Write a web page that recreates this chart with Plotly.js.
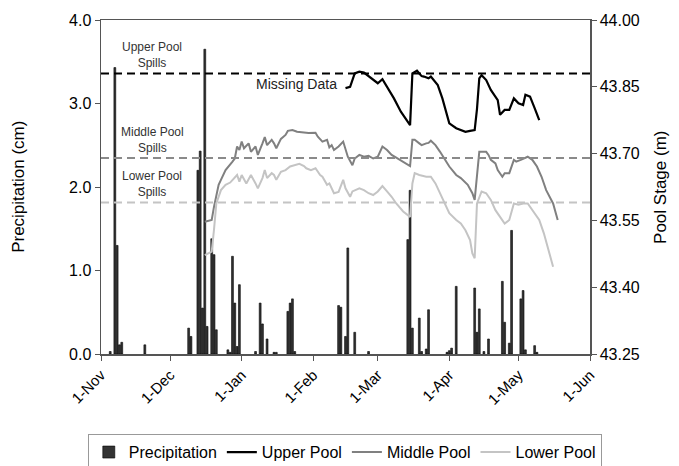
<!DOCTYPE html>
<html>
<head>
<meta charset="utf-8">
<script src="https://cdn.plot.ly/plotly-3.0.1.min.js"></script>
<style>html,body{margin:0;padding:0;background:#fff;}#chart{width:679px;height:466px;}</style>
</head>
<body>
<div id="chart"></div>
<script>
// ---- Data ----
const precipDates = ['2004-11-05','2004-11-07','2004-11-08','2004-11-09','2004-11-10','2004-11-20',
  '2004-12-09','2004-12-10','2004-12-13','2004-12-14','2004-12-15','2004-12-16','2004-12-17','2004-12-19','2004-12-20','2004-12-21',
  '2004-12-26','2004-12-27','2004-12-28','2004-12-29','2004-12-30','2004-12-31',
  '2005-01-07','2005-01-09','2005-01-10','2005-01-12','2005-01-15','2005-01-16','2005-01-21','2005-01-22','2005-01-23','2005-01-24',
  '2005-02-12','2005-02-13','2005-02-15','2005-02-16','2005-02-19','2005-02-25',
  '2005-03-14','2005-03-15','2005-03-16','2005-03-19','2005-03-20','2005-03-22','2005-03-23','2005-03-31',
  '2005-04-01','2005-04-02','2005-04-04','2005-04-12','2005-04-13','2005-04-14','2005-04-16','2005-04-18',
  '2005-04-24','2005-04-25','2005-04-27','2005-04-28',
  '2005-05-02','2005-05-03','2005-05-04','2005-05-08','2005-05-09'];
const precipCm = [0.03,3.43,1.30,0.11,0.14,0.11,
  0.31,0.21,2.20,2.43,0.55,3.65,0.33,1.38,1.19,0.29,
  0.05,0.02,1.17,0.61,0.09,0.83,
  0.03,0.61,0.36,0.18,0.02,0.02,0.51,0.61,0.66,0.03,
  0.58,0.56,0.21,1.27,0.26,0.03,
  1.37,1.96,0.31,0.43,0.03,0.06,0.53,0.02,
  0.04,0.07,0.81,0.79,0.26,0.54,0.03,0.18,
  0.87,0.38,0.13,1.48,
  0.66,0.76,0.05,0.10,0.02];

const upperDates = ['2005-02-15','2005-02-17','2005-02-19','2005-02-21','2005-02-23','2005-02-26','2005-03-01','2005-03-03','2005-03-05','2005-03-06','2005-03-08','2005-03-11','2005-03-15',
  '2005-03-16','2005-03-18','2005-03-19','2005-03-20','2005-03-21','2005-03-23','2005-03-24','2005-03-27','2005-03-29','2005-03-31',
  '2005-04-01','2005-04-04','2005-04-06','2005-04-08','2005-04-10','2005-04-12','2005-04-13','2005-04-14','2005-04-15','2005-04-17','2005-04-19',
  '2005-04-22','2005-04-23','2005-04-25','2005-04-27','2005-04-29','2005-05-01','2005-05-03','2005-05-04','2005-05-06','2005-05-08','2005-05-10'];
const upperStage = [43.847,43.850,43.880,43.884,43.882,43.869,43.858,43.867,43.850,43.843,43.824,43.794,43.764,
  43.880,43.886,43.880,43.874,43.873,43.869,43.873,43.854,43.824,43.790,
  43.768,43.757,43.753,43.749,43.751,43.753,43.800,43.869,43.876,43.865,43.843,
  43.820,43.787,43.798,43.798,43.824,43.813,43.809,43.832,43.828,43.802,43.775];

const middleDates = ['2004-12-16','2004-12-19','2004-12-20','2004-12-22','2004-12-23','2004-12-25','2004-12-28','2004-12-29','2004-12-30','2004-12-31',
  '2005-01-01','2005-01-02','2005-01-04','2005-01-05','2005-01-07','2005-01-08','2005-01-10','2005-01-11','2005-01-12','2005-01-14','2005-01-15','2005-01-16','2005-01-18','2005-01-20','2005-01-21','2005-01-23','2005-01-25','2005-01-28','2005-01-30',
  '2005-02-02','2005-02-03','2005-02-05','2005-02-07','2005-02-08','2005-02-09','2005-02-10','2005-02-12','2005-02-14','2005-02-15','2005-02-16','2005-02-18','2005-02-19','2005-02-21','2005-02-23','2005-02-25','2005-02-27',
  '2005-03-01','2005-03-03','2005-03-05','2005-03-07','2005-03-09','2005-03-12','2005-03-15','2005-03-16','2005-03-17','2005-03-19','2005-03-20','2005-03-22','2005-03-23','2005-03-24','2005-03-26','2005-03-28','2005-03-30',
  '2005-04-01','2005-04-04','2005-04-06','2005-04-09','2005-04-11','2005-04-12','2005-04-13','2005-04-14','2005-04-17','2005-04-18','2005-04-19','2005-04-21','2005-04-22','2005-04-24','2005-04-25','2005-04-27','2005-04-29','2005-04-30',
  '2005-05-02','2005-05-05','2005-05-07','2005-05-09','2005-05-11','2005-05-13','2005-05-16','2005-05-18'];
const middleStage = [43.547,43.551,43.581,43.630,43.641,43.663,43.682,43.689,43.716,43.708,
  43.727,43.712,43.723,43.704,43.716,43.697,43.723,43.737,43.719,43.731,43.723,43.712,43.733,43.742,43.751,43.753,43.749,43.747,43.746,
  43.747,43.738,43.727,43.731,43.714,43.719,43.708,43.716,43.727,43.708,43.693,43.674,43.689,43.697,43.693,43.695,43.689,
  43.693,43.716,43.708,43.697,43.691,43.682,43.672,43.731,43.731,43.723,43.719,43.723,43.724,43.729,43.719,43.704,43.686,
  43.671,43.652,43.645,43.630,43.611,43.596,43.660,43.704,43.704,43.697,43.686,43.678,43.663,43.648,43.656,43.656,43.686,43.682,
  43.686,43.693,43.686,43.671,43.648,43.618,43.588,43.551];

const lowerDates = ['2004-12-16','2004-12-19','2004-12-20','2004-12-21','2004-12-23','2004-12-25','2004-12-27','2004-12-28','2004-12-30','2004-12-31',
  '2005-01-01','2005-01-03','2005-01-05','2005-01-07','2005-01-08','2005-01-10','2005-01-11','2005-01-12','2005-01-14','2005-01-15','2005-01-16','2005-01-18','2005-01-20','2005-01-22','2005-01-24','2005-01-26','2005-01-28','2005-01-29','2005-01-31',
  '2005-02-02','2005-02-04','2005-02-05','2005-02-07','2005-02-08','2005-02-10','2005-02-12','2005-02-14','2005-02-15','2005-02-17','2005-02-18','2005-02-21','2005-02-23','2005-02-25','2005-02-27',
  '2005-03-01','2005-03-03','2005-03-05','2005-03-07','2005-03-09','2005-03-12','2005-03-15','2005-03-16','2005-03-17','2005-03-19','2005-03-22','2005-03-24','2005-03-26','2005-03-28','2005-03-30',
  '2005-04-01','2005-04-04','2005-04-06','2005-04-08','2005-04-10','2005-04-11','2005-04-12','2005-04-13','2005-04-15','2005-04-17','2005-04-19','2005-04-21','2005-04-24','2005-04-25','2005-04-27','2005-04-29',
  '2005-05-01','2005-05-03','2005-05-05','2005-05-07','2005-05-10','2005-05-12','2005-05-14','2005-05-16'];
const lowerStage = [43.472,43.480,43.530,43.588,43.618,43.630,43.635,43.641,43.652,43.637,
  43.652,43.633,43.652,43.633,43.622,43.645,43.663,43.645,43.656,43.652,43.641,43.659,43.663,43.671,43.674,43.677,43.672,43.667,43.663,
  43.667,43.652,43.648,43.630,43.633,43.611,43.614,43.641,43.622,43.603,43.615,43.622,43.618,43.611,43.607,
  43.615,43.627,43.615,43.603,43.588,43.570,43.558,43.633,43.656,43.652,43.648,43.648,43.633,43.611,43.588,
  43.566,43.551,43.543,43.528,43.506,43.476,43.465,43.588,43.615,43.611,43.596,43.573,43.551,43.543,43.551,43.588,
  43.585,43.588,43.588,43.573,43.551,43.521,43.484,43.446];

const spillLevels = [43.88, 43.69, 43.59];   // upper, middle, lower pool spill stage (m)
const spillLabels = ['Upper Pool<br>Spills', 'Middle Pool<br>Spills', 'Lower Pool<br>Spills'];
const monthTicks = ['2004-11-01','2004-12-01','2005-01-01','2005-02-01','2005-03-01','2005-04-01','2005-05-01','2005-06-01'];
const monthLabels = ['1-Nov','1-Dec','1-Jan','1-Feb','1-Mar','1-Apr','1-May','1-Jun'];
const precipTicks = [0, 1, 2, 3, 4];
const stageTicks = [43.25, 43.40, 43.55, 43.70, 43.85, 44.00];

// ---- Chart ----
const FONT = 'Liberation Sans, Arial, sans-serif';
const DAY = 86400000;

const traces = [
  {type:'bar', name:'Precipitation', x:precipDates, y:precipCm, yaxis:'y',
   width: DAY*0.8, marker:{color:'#333333', line:{color:'#000', width:0.6}}},
  {type:'scatter', mode:'lines', name:'Upper Pool', x:upperDates, y:upperStage, yaxis:'y2',
   line:{color:'#000000', width:2.2}},
  {type:'scatter', mode:'lines', name:'Middle Pool', x:middleDates, y:middleStage, yaxis:'y2',
   line:{color:'#808080', width:2}},
  {type:'scatter', mode:'lines', name:'Lower Pool', x:lowerDates, y:lowerStage, yaxis:'y2',
   line:{color:'#c4c4c4', width:2}}
];

const spillStyles = [
  {color:'#000000', width:2, dash:'8px,5px'},
  {color:'#8a8a8a', width:2, dash:'8px,5px'},
  {color:'#c4c4c4', width:2, dash:'8px,5px'}
];
const shapes = spillLevels.map((v, i) => ({
  type:'line', xref:'paper', x0:0, x1:1, yref:'y2', y0:v, y1:v, line:spillStyles[i], layer:'above'
}));

const labelY = [0.894, 0.642, 0.510];
const annotations = spillLabels.map((t, i) => ({
  text:t, xref:'paper', yref:'paper', x:0.105, y:labelY[i], showarrow:false,
  font:{family:FONT, size:12, color:'#333'}, xanchor:'center', yanchor:'middle', align:'center'
}));
annotations.push({text:'Missing Data', xref:'paper', yref:'paper', x:0.487, y:0.807, showarrow:false,
  xanchor:'right', yanchor:'middle', font:{family:FONT, size:14, color:'#222'}});
// axis titles
annotations.push({text:'Precipitation (cm)', xref:'paper', yref:'paper', x:-0.17, y:0.5, showarrow:false,
  textangle:-90, xanchor:'center', yanchor:'middle', font:{family:FONT, size:17, color:'#000'}});
annotations.push({text:'Pool Stage (m)', xref:'paper', yref:'paper', x:1.143, y:0.5, showarrow:false,
  textangle:-90, xanchor:'center', yanchor:'middle', font:{family:FONT, size:17, color:'#000'}});

const axisLine = '#555555';
const layout = {
  width:679, height:466,
  margin:{l:101, r:89, t:20, b:112, autoexpand:false},
  paper_bgcolor:'#fff', plot_bgcolor:'#fff',
  font:{family:FONT, color:'#000'},
  showlegend:true,
  barmode:'overlay',
  xaxis:{type:'date', range:['2004-11-01','2005-06-01'], tickvals:monthTicks, ticktext:monthLabels,
    tickangle:-45, tickfont:{size:15, family:FONT}, showgrid:false, zeroline:false, automargin:false,
    showline:true, linecolor:axisLine, linewidth:1.5, mirror:true, ticks:'outside', ticklen:5, tickcolor:axisLine},
  yaxis:{range:[0,4], tickvals:precipTicks, tickformat:'.1f', tickfont:{size:16, family:FONT},
    showgrid:false, zeroline:false, showline:true, linecolor:axisLine, linewidth:1.5, automargin:false,
    ticks:'outside', ticklen:5, tickcolor:axisLine},
  yaxis2:{range:[43.25,44.00], tickvals:stageTicks, tickformat:'.2f', overlaying:'y', side:'right',
    tickfont:{size:16, family:FONT}, automargin:false,
    showgrid:false, zeroline:false, showline:true, linecolor:axisLine, linewidth:1.5,
    ticks:'outside', ticklen:5, tickcolor:axisLine},
  legend:{orientation:'h', x:-0.027, xanchor:'left', y:-0.24, yanchor:'top',
    bordercolor:'#999', borderwidth:1, font:{size:16, family:FONT}, itemwidth:30,
    tracegroupgap:0, traceorder:'normal'},
  shapes:shapes,
  annotations:annotations
};

Plotly.newPlot('chart', traces, layout, {staticPlot:true});
</script>
</body>
</html>
